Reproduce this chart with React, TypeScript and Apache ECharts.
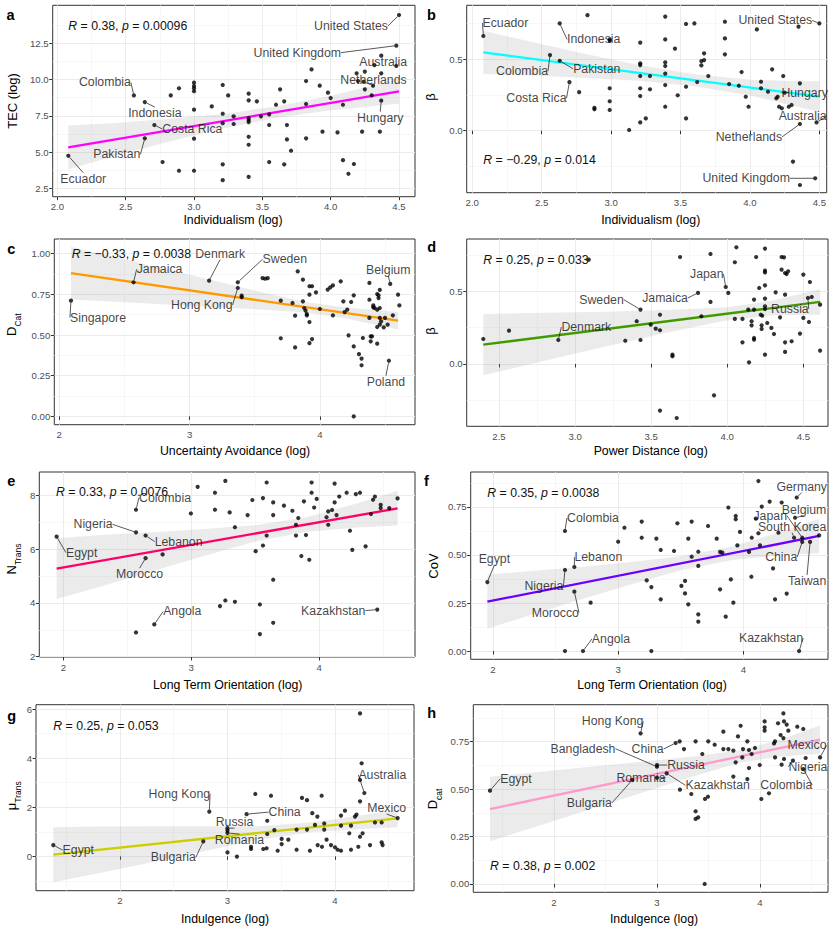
import React, { useEffect, useRef } from "react";
import * as echarts from "echarts";

const FONT = "'Liberation Sans', Arial, sans-serif";

// ---------------- Panel a : TEC vs Individualism ----------------
const A_POINTS = [
  [4.48, 10.94], [4.32, 11.0], [3.86, 10.7], [4.19, 10.43], [4.25, 10.55], [4.37, 10.43], [4.2, 9.9], [3.82, 9.9],
  [3.0, 9.79], [3.0, 9.56], [3.0, 9.4], [3.0, 9.2], [3.21, 9.63], [2.89, 9.4], [3.92, 9.58], [4.31, 9.58], [3.63, 9.33], [4.25, 9.33],
  [3.98, 9.1], [4.0, 8.73], [3.4, 9.03], [2.83, 8.91], [3.25, 8.91], [4.3, 8.91], [3.4, 8.57], [3.46, 8.5], [3.66, 8.5], [3.82, 8.32],
  [3.6, 8.27], [4.09, 8.27], [3.13, 8.15], [3.0, 7.93], [3.21, 7.65], [3.29, 7.47], [3.49, 7.47], [3.55, 7.6], [3.4, 7.35], [3.4, 7.21],
  [3.4, 7.07], [3.21, 7.0], [3.29, 6.94], [3.55, 6.87], [3.68, 6.87], [3.94, 6.41], [4.05, 6.36], [4.23, 6.41], [4.36, 6.41], [3.4, 6.06],
  [3.68, 5.88], [3.82, 5.95], [3.0, 5.93], [3.4, 5.51], [3.71, 5.1], [4.09, 4.45], [4.17, 4.18], [4.13, 3.51], [2.77, 4.32], [3.55, 4.32],
  [3.66, 4.16], [3.21, 4.16], [2.89, 3.72], [3.0, 3.72], [3.4, 3.3], [3.21, 3.07],
];
const A_LABELS = [
  ["United States", 4.5, 14.45], ["United Kingdom", 4.48, 12.34], ["Australia", 4.37, 11.65], ["Netherlands", 4.24, 9.85],
  ["Hungary", 4.37, 8.55], ["Colombia", 2.56, 8.91], ["Indonesia", 2.64, 8.45], ["Costa Rica", 2.71, 6.87],
  ["Pakistan", 2.64, 5.95], ["Ecuador", 2.08, 4.75],
];
const A_FIT_X = [2.08, 4.5];
const A_FIT_Y = [5.33, 9.19];
const A_BAND_X = [2.08, 2.4, 2.8, 3.2, 3.6, 4.0, 4.3, 4.5];
const A_BAND_LO = [3.83, 4.69, 5.68, 6.62, 7.35, 7.89, 8.17, 8.34];
const A_BAND_HI = [6.83, 6.99, 7.28, 7.62, 8.15, 8.89, 9.57, 10.04];
const A_X_MAJOR = [2.0, 2.5, 3.0, 3.5, 4.0, 4.5];
const A_X_MINOR = [2.25, 2.75, 3.25, 3.75, 4.25];
const A_Y_MAJOR = [2.5, 5.0, 7.5, 10.0, 12.5];
const A_Y_MINOR = [3.75, 6.25, 8.75, 11.25, 13.75];

// ---------------- Panel b : beta vs Individualism ----------------
const B_POINTS = [
  [2.83, 0.81], [2.88, 0.16], [2.88, 0.15], [2.77, 0.27], [2.99, 0.64], [2.99, 0.63], [2.99, 0.297], [2.99, 0.206], [2.99, 0.145], [3.13, 0.005],
  [3.21, 0.617], [3.21, 0.472], [3.21, 0.46], [3.21, 0.383], [3.21, 0.297], [3.21, 0.243], [3.21, 0.058], [3.25, 0.086], [3.28, 0.383], [3.28, 0.29],
  [3.39, 0.8], [3.39, 0.64], [3.39, 0.479], [3.39, 0.453], [3.39, 0.4], [3.39, 0.32], [3.39, 0.168], [3.46, 0.575], [3.48, 0.248], [3.54, 0.748],
  [3.6, 0.752], [3.54, 0.308], [3.54, 0.086], [3.62, 0.341], [3.65, 0.488], [3.65, 0.458], [3.67, 0.542], [3.67, 0.495], [3.7, 0.383], [3.82, 0.764],
  [3.82, 0.647], [3.82, 0.535], [3.85, 0.327], [3.92, 0.315], [3.94, 0.411], [3.97, 0.238], [3.99, 0.168], [4.05, 0.71], [4.08, 0.343], [4.08, 0.297],
  [4.13, 0.273], [4.16, 0.43], [4.19, 0.227], [4.2, 0.238], [4.21, 0.168], [4.23, 0.157], [4.24, 0.383], [4.28, 0.168], [4.3, 0.18], [4.31, -0.217],
  [4.35, 0.729], [4.36, 0.332], [4.36, -0.381],
];
const B_LABELS = [
  ["Ecuador", 2.08, 0.664], ["Indonesia", 2.63, 0.752], ["Colombia", 2.56, 0.53], ["Pakistan", 2.63, 0.49],
  ["Costa Rica", 2.7, 0.34], ["United States", 4.5, 0.752], ["Hungary", 4.25, 0.266], ["Australia", 4.48, 0.058],
  ["Netherlands", 4.36, 0.047], ["United Kingdom", 4.47, -0.334],
];
const B_FIT_X = [2.08, 4.5];
const B_FIT_Y = [0.549, 0.238];
const B_BAND_X = [2.08, 2.4, 2.8, 3.2, 3.6, 4.0, 4.3, 4.5];
const B_BAND_LO = [0.397, 0.388, 0.371, 0.35, 0.312, 0.247, 0.179, 0.13];
const B_BAND_HI = [0.701, 0.628, 0.541, 0.46, 0.396, 0.357, 0.349, 0.346];
const B_X_MAJOR = [2.0, 2.5, 3.0, 3.5, 4.0, 4.5];
const B_X_MINOR = [2.25, 2.75, 3.25, 3.75, 4.25];
const B_Y_MAJOR = [0.0, 0.5];
const B_Y_MINOR = [-0.25, 0.25, 0.75];

// ---------------- Panel c : D_Cat vs Uncertainty Avoidance ----------------
const C_POINTS = [
  [3.4, 0.742], [3.4, 0.732], [3.56, 0.85], [3.58, 0.846], [3.6, 0.85], [3.7, 0.711], [3.7, 0.48], [3.79, 0.697], [3.81, 0.619], [3.81, 0.424],
  [3.83, 0.891], [3.87, 0.84], [3.87, 0.707], [3.88, 0.666], [3.89, 0.65], [3.9, 0.629], [3.9, 0.621], [3.92, 0.748], [3.92, 0.8], [3.94, 0.8],
  [3.92, 0.58], [3.92, 0.45], [3.94, 0.475], [3.97, 0.762], [4.0, 0.66], [4.06, 0.779], [4.08, 0.793], [4.1, 0.805], [4.1, 0.621], [4.16, 0.83],
  [4.18, 0.707], [4.19, 0.641], [4.21, 0.656], [4.22, 0.498], [4.24, 0.703], [4.26, 0.744], [4.26, 0.43], [4.26, 0.0], [4.3, 0.383], [4.32, 0.355],
  [4.32, 0.314], [4.33, 0.482], [4.38, 0.82], [4.38, 0.717], [4.38, 0.605], [4.39, 0.492], [4.39, 0.461], [4.4, 0.492], [4.41, 0.682], [4.41, 0.67],
  [4.42, 0.666], [4.44, 0.752], [4.45, 0.744], [4.45, 0.727], [4.46, 0.777], [4.44, 0.656], [4.46, 0.666], [4.44, 0.549], [4.46, 0.564], [4.47, 0.584],
  [4.49, 0.547], [4.44, 0.447], [4.46, 0.605], [4.5, 0.605], [4.52, 0.564], [4.56, 0.621], [4.6, 0.748], [4.61, 0.682],
];
const C_LABELS = [
  ["Singapore", 2.09, 0.711], ["Jamaica", 2.57, 0.824], ["Denmark", 3.15, 0.834], ["Sweden", 3.37, 0.824],
  ["Hong Kong", 3.37, 0.789], ["Belgium", 4.54, 0.814], ["Poland", 4.53, 0.342],
];
const C_FIT_X = [2.09, 4.6];
const C_FIT_Y = [0.881, 0.588];
const C_BAND_X = [2.09, 2.5, 3.0, 3.5, 3.9, 4.2, 4.6];
const C_BAND_LO = [0.719, 0.701, 0.68, 0.658, 0.638, 0.601, 0.534];
const C_BAND_HI = [1.043, 0.965, 0.87, 0.774, 0.702, 0.669, 0.642];
const C_X_MAJOR = [2, 3, 4];
const C_X_MINOR = [2.5, 3.5, 4.5];
const C_Y_MAJOR = [0.0, 0.25, 0.5, 0.75, 1.0];
const C_Y_MINOR = [0.125, 0.375, 0.625, 0.875];

// ---------------- Panel d : beta vs Power Distance ----------------
const D_POINTS = [
  [2.397, 0.172], [2.566, 0.229], [3.09, 0.718], [3.33, 0.16], [3.405, 0.294], [3.43, 0.165], [3.497, 0.271], [3.53, 0.243], [3.558, 0.339], [3.558, 0.232],
  [3.558, -0.321], [3.64, 0.064], [3.64, 0.053], [3.668, -0.372], [3.69, 0.736], [3.83, 0.328], [3.89, 0.757], [3.89, 0.427], [3.913, -0.216], [4.007, 0.489],
  [4.05, 0.7], [4.05, 0.31], [4.06, 0.803], [4.1, 0.31], [4.1, 0.149], [4.143, 0.011], [4.138, 0.374], [4.16, 0.294], [4.16, 0.266], [4.176, 0.443],
  [4.176, 0.374], [4.176, 0.179], [4.176, 0.167], [4.19, 0.736], [4.21, 0.523], [4.22, 0.339], [4.23, 0.332], [4.226, 0.266], [4.226, 0.241], [4.248, 0.794],
  [4.248, 0.642], [4.248, 0.63], [4.248, 0.541], [4.248, 0.45], [4.248, 0.397], [4.248, 0.378], [4.248, 0.064], [4.263, 0.282], [4.29, 0.248], [4.307, 0.206],
  [4.318, 0.493], [4.347, 0.321], [4.357, 0.736], [4.373, 0.734], [4.357, 0.649], [4.38, 0.626], [4.39, 0.619], [4.4, 0.638], [4.38, 0.477], [4.38, 0.149],
  [4.38, 0.083], [4.423, 0.156], [4.478, 0.209], [4.5, 0.615], [4.5, 0.317], [4.537, 0.289], [4.543, 0.564], [4.555, 0.461], [4.61, 0.408], [4.61, 0.092],
];
const D_LABELS = [
  ["Denmark", 2.89, 0.165], ["Sweden", 3.43, 0.374], ["Jamaica", 3.808, 0.489], ["Japan", 3.99, 0.53], ["Russia", 4.53, 0.454],
];
const D_FIT_X = [2.397, 4.61];
const D_FIT_Y = [0.133, 0.427];
const D_BAND_X = [2.397, 2.8, 3.2, 3.6, 4.0, 4.3, 4.61];
const D_BAND_LO = [-0.078, 0.022, 0.12, 0.215, 0.301, 0.336, 0.339];
const D_BAND_HI = [0.344, 0.352, 0.36, 0.371, 0.391, 0.436, 0.515];
const D_X_MAJOR = [2.5, 3.0, 3.5, 4.0, 4.5];
const D_X_MINOR = [2.75, 3.25, 3.75, 4.25];
const D_Y_MAJOR = [0.0, 0.5];
const D_Y_MINOR = [-0.25, 0.25, 0.75];

// ---------------- Panel e : N_Trans vs Long Term Orientation ----------------
const E_POINTS = [
  [2.776, 5.8], [2.568, 2.9], [2.997, 7.32], [3.05, 8.31], [3.185, 8.09], [3.185, 7.46], [3.266, 8.53], [3.3, 7.36], [3.341, 6.81], [3.224, 3.88],
  [3.266, 4.09], [3.341, 4.04], [3.44, 7.26], [3.477, 7.82], [3.503, 5.92], [3.56, 7.89], [3.56, 6.13], [3.589, 8.47], [3.589, 6.5], [3.536, 3.94],
  [3.536, 2.84], [3.64, 7.73], [3.64, 7.26], [3.64, 4.86], [3.64, 3.26], [3.724, 7.61], [3.79, 7.42], [3.818, 6.9], [3.836, 7.15], [3.818, 6.5],
  [3.86, 5.74], [3.88, 7.77], [3.896, 6.52], [3.922, 5.6], [3.94, 8.47], [3.94, 8.09], [3.96, 7.54], [3.98, 7.86], [4.057, 7.18], [4.07, 6.9],
  [4.07, 7.4], [4.1, 7.45], [4.12, 8.43], [4.12, 7.73], [4.135, 7.26], [4.156, 7.95], [4.214, 8.09], [4.24, 6.68], [4.258, 5.97], [4.286, 8.04],
  [4.318, 8.09], [4.362, 6.1], [4.404, 7.3], [4.42, 7.83], [4.435, 7.95], [4.48, 7.64], [4.48, 7.52], [4.547, 7.52], [4.612, 7.88],
];
const E_LABELS = [
  ["Egypt", 1.948, 6.46], ["Colombia", 2.568, 7.46], ["Nigeria", 2.568, 6.62], ["Lebanon", 2.643, 6.5],
  ["Morocco", 2.643, 5.66], ["Angola", 2.711, 3.2], ["Kazakhstan", 4.453, 3.75],
];
const E_FIT_X = [1.948, 4.612];
const E_FIT_Y = [5.27, 7.51];
const E_BAND_X = [1.948, 2.3, 2.7, 3.1, 3.5, 3.9, 4.3, 4.612];
const E_BAND_LO = [4.14, 4.62, 5.18, 5.74, 6.28, 6.64, 6.8, 6.87];
const E_BAND_HI = [6.4, 6.52, 6.62, 6.74, 6.88, 7.18, 7.7, 8.15];
const E_X_MAJOR = [2, 3, 4];
const E_X_MINOR = [2.5, 3.5, 4.5];
const E_Y_MAJOR = [2, 4, 6, 8];
const E_Y_MINOR = [3, 5, 7];

// ---------------- Panel f : CoV vs Long Term Orientation ----------------
const F_POINTS = [
  [2.78, 0.252], [2.575, 0.0], [3.265, 0.0], [3.0, 0.569], [3.05, 0.642], [3.188, 0.674], [3.188, 0.59], [3.228, 0.368], [3.265, 0.333], [3.305, 0.585],
  [3.34, 0.526], [3.34, 0.269], [3.446, 0.521], [3.473, 0.665], [3.505, 0.339], [3.534, 0.365], [3.534, 0.3], [3.56, 0.585], [3.56, 0.243], [3.587, 0.674],
  [3.587, 0.491], [3.64, 0.517], [3.64, 0.443], [3.64, 0.191], [3.64, 0.153], [3.718, 0.651], [3.787, 0.585], [3.814, 0.516], [3.832, 0.512], [3.814, 0.321],
  [3.859, 0.179], [3.88, 0.747], [3.9, 0.373], [3.92, 0.252], [3.939, 0.703], [3.939, 0.686], [3.952, 0.55], [3.973, 0.62], [4.045, 0.516], [4.064, 0.387],
  [4.067, 0.59], [4.1, 0.689], [4.12, 0.885], [4.12, 0.613], [4.133, 0.55], [4.147, 0.752], [4.21, 0.778], [4.237, 0.43], [4.253, 0.269], [4.28, 0.616],
  [4.306, 0.773], [4.346, 0.299], [4.605, 0.602],
];
const F_LABELS = [
  ["Egypt", 1.955, 0.359], ["Colombia", 2.575, 0.625], ["Nigeria", 2.575, 0.422], ["Lebanon", 2.65, 0.4375],
  ["Morocco", 2.65, 0.309], ["Angola", 2.719, 0.0], ["Kazakhstan", 4.445, 0.0], ["Germany", 4.426, 0.799],
  ["Belgium", 4.413, 0.694], ["Japan", 4.47, 0.59], ["South Korea", 4.405, 0.59], ["China", 4.47, 0.568], ["Taiwan", 4.533, 0.568],
];
const F_FIT_X = [1.955, 4.605];
const F_FIT_Y = [0.257, 0.599];
const F_BAND_X = [1.955, 2.3, 2.7, 3.1, 3.5, 3.9, 4.3, 4.605];
const F_BAND_LO = [0.117, 0.187, 0.268, 0.347, 0.421, 0.473, 0.5, 0.509];
const F_BAND_HI = [0.397, 0.417, 0.438, 0.463, 0.493, 0.543, 0.62, 0.689];
const F_X_MAJOR = [2, 3, 4];
const F_X_MINOR = [2.5, 3.5, 4.5];
const F_Y_MAJOR = [0.0, 0.25, 0.5, 0.75];
const F_Y_MINOR = [0.125, 0.375, 0.625, 0.875];

// ---------------- Panel g : mu_Trans vs Indulgence ----------------
const G_POINTS = [
  [3.0, 1.05], [3.0, 0.16], [3.088, -0.01], [3.219, 0.39], [3.219, 0.3], [3.259, 2.54], [3.333, 0.3], [3.364, 0.33], [3.37, 1.45], [3.37, 0.91],
  [3.405, 2.47], [3.436, 1.07], [3.467, 0.23], [3.504, 0.71], [3.504, 0.5], [3.566, 0.68], [3.643, 1.09], [3.643, 0.27], [3.693, 2.38], [3.74, 2.29],
  [3.74, 1.09], [3.767, 0.23], [3.789, 1.76], [3.814, 1.28], [3.836, 1.62], [3.839, 0.46], [3.876, 2.47], [3.879, 0.39], [3.9, 1.34], [3.9, 1.09],
  [3.922, 0.68], [3.963, 0.46], [4.0, 0.37], [4.025, 0.27], [4.056, 0.23], [4.056, 1.25], [4.056, 1.66], [4.093, 1.86], [4.133, 0.94], [4.149, 1.25],
  [4.149, 0.27], [4.186, 1.62], [4.2, 1.7], [4.217, 0.39], [4.233, 5.82], [4.233, 3.11], [4.233, 2.24], [4.233, 0.8], [4.248, 3.79], [4.257, 0.94],
  [4.326, 0.46], [4.372, 1.38], [4.434, 1.38], [4.434, 0.57], [4.443, 0.46],
];
const G_LABELS = [
  ["Egypt", 1.38, 0.46], ["Hong Kong", 2.831, 1.82], ["Bulgaria", 2.775, 0.61], ["Russia", 3.0, 1.15],
  ["Romania", 3.0, 0.95], ["China", 3.178, 1.72], ["Australia", 4.273, 2.58], ["Mexico", 4.583, 1.56],
];
const G_FIT_X = [1.38, 4.583];
const G_FIT_Y = [0.07, 1.55];
const G_BAND_X = [1.38, 1.8, 2.3, 2.8, 3.3, 3.8, 4.2, 4.583];
const G_BAND_LO = [-1.05, -0.686, -0.235, 0.226, 0.687, 0.988, 1.103, 1.19];
const G_BAND_HI = [1.19, 1.214, 1.225, 1.226, 1.227, 1.388, 1.643, 1.91];
const G_X_MAJOR = [2, 3, 4];
const G_X_MINOR = [1.5, 2.5, 3.5, 4.5];
const G_Y_MAJOR = [0, 2, 4, 6];
const G_Y_MINOR = [-1, 1, 3, 5];

// ---------------- Panel h : D_cat vs Indulgence ----------------
const H_POINTS = [
  [3.22, 0.752], [3.223, 0.497], [3.262, 0.711], [3.333, 0.474], [3.375, 0.752], [3.375, 0.383], [3.375, 0.343], [3.4, 0.351], [3.44, 0.685], [3.463, 0.0],
  [3.466, 0.448], [3.495, 0.46], [3.498, 0.752], [3.56, 0.734], [3.644, 0.803], [3.644, 0.711], [3.693, 0.711], [3.741, 0.703], [3.741, 0.566], [3.764, 0.641],
  [3.786, 0.778], [3.812, 0.834], [3.828, 0.667], [3.835, 0.711], [3.877, 0.752], [3.877, 0.553], [3.893, 0.706], [3.893, 0.611], [3.919, 0.685], [3.951, 0.717],
  [3.997, 0.627], [4.013, 0.448], [4.045, 0.857], [4.045, 0.826], [4.045, 0.808], [4.087, 0.478], [4.136, 0.741], [4.146, 0.752], [4.146, 0.667], [4.175, 0.847],
  [4.2, 0.785], [4.21, 0.629], [4.227, 0.899], [4.227, 0.769], [4.233, 0.857], [4.259, 0.84], [4.233, 0.659], [4.275, 0.808], [4.362, 0.829], [4.42, 0.817],
  [4.443, 0.664],
];
const H_LABELS = [
  ["Egypt", 1.379, 0.492], ["Hong Kong", 2.841, 0.794], ["Bulgaria", 2.76, 0.548], ["Romania", 3.0, 0.56],
  ["Bangladesh", 3.0, 0.618], ["Russia", 3.0, 0.627], ["Kazakhstan", 3.094, 0.583], ["China", 3.181, 0.743],
  ["Mexico", 4.583, 0.667], ["Nigeria", 4.32, 0.65], ["Colombia", 4.42, 0.606],
];
const H_FIT_X = [1.379, 4.583];
const H_FIT_Y = [0.395, 0.761];
const H_BAND_X = [1.379, 1.8, 2.3, 2.8, 3.3, 3.8, 4.2, 4.583];
const H_BAND_LO = [0.225, 0.298, 0.385, 0.472, 0.559, 0.639, 0.672, 0.686];
const H_BAND_HI = [0.565, 0.588, 0.615, 0.642, 0.669, 0.703, 0.762, 0.836];
const H_X_MAJOR = [2, 3, 4];
const H_X_MINOR = [1.5, 2.5, 3.5, 4.5];
const H_Y_MAJOR = [0.0, 0.25, 0.5, 0.75];
const H_Y_MINOR = [0.125, 0.375, 0.625, 0.875];

// ---------------- layout (pixel positions, label nudges, styles) ----------------
const PANELS = [
  {
    letter: "a", points: A_POINTS, labels: A_LABELS, fitX: A_FIT_X, fitY: A_FIT_Y, bandX: A_BAND_X, bandLo: A_BAND_LO, bandHi: A_BAND_HI,
    xMajor: A_X_MAJOR, xMinor: A_X_MINOR, yMajor: A_Y_MAJOR, yMinor: A_Y_MINOR, xDec: 1, yDec: 1,
    rect: [52.7, 5.3, 415, 196.7], xr: [1.966, 4.617], yr: [1.93, 15.12], color: "#FF00FF",
    nudge: [[-48, 11], [-99, 7], [2, 6], [10, -2], [-1, 17], [-29, -13], [10, 11], [38, 4], [-28, 16], [15, 23]],
    stat: ["R", " = 0.38, ", "p", " = 0.00096"], statPos: [68.3, 25.7],
    xTitle: "Individualism (log)", xTitlePos: [233, 220], yTitle: ["TEC (log)", ""], yTitlePos: [14, 101], letterPos: [6.5, 15],
  },
  {
    letter: "b", points: B_POINTS, labels: B_LABELS, fitX: B_FIT_X, fitY: B_FIT_Y, bandX: B_BAND_X, bandLo: B_BAND_LO, bandHi: B_BAND_HI,
    xMajor: B_X_MAJOR, xMinor: B_X_MINOR, yMajor: B_Y_MAJOR, yMinor: B_Y_MINOR, xDec: 1, yDec: 1,
    rect: [466.7, 5.3, 828, 192.7], xr: [1.96, 4.553], yr: [-0.435, 0.879], color: "#00FFFF",
    nudge: [[22, -13], [34, 16], [-28, 16], [37, 8], [-33, 16], [-44, -3], [20, 0], [-14, -6], [-51, 13], [-69, 0]],
    stat: ["R", " = \u22120.29, ", "p", " = 0.014"], statPos: [483.3, 160],
    xTitle: "Individualism (log)", xTitlePos: [650.7, 220], yTitle: ["\u03b2", ""], yTitlePos: [432.3, 97], letterPos: [427, 15],
  },
  {
    letter: "c", points: C_POINTS, labels: C_LABELS, fitX: C_FIT_X, fitY: C_FIT_Y, bandX: C_BAND_X, bandLo: C_BAND_LO, bandHi: C_BAND_HI,
    xMajor: C_X_MAJOR, xMinor: C_X_MINOR, yMajor: C_Y_MAJOR, yMinor: C_Y_MINOR, xDec: 0, yDec: 2,
    rect: [54.3, 239, 415, 424.7], xr: [1.962, 4.73], yr: [-0.051, 1.09], color: "#FF9900",
    nudge: [[27, 17], [26, -13], [11, -27], [47, -23], [-36, 17], [-2, -14], [-3, 21]],
    stat: ["R", " = \u22120.33, ", "p", " = 0.0038"], statPos: [71.7, 253.7],
    xTitle: "Uncertainty Avoidance (log)", xTitlePos: [235, 451.3], yTitle: ["D", "Cat"], yTitlePos: [13.3, 324.7], letterPos: [7.3, 248.7],
  },
  {
    letter: "d", points: D_POINTS, labels: D_LABELS, fitX: D_FIT_X, fitY: D_FIT_Y, bandX: D_BAND_X, bandLo: D_BAND_LO, bandHi: D_BAND_HI,
    xMajor: D_X_MAJOR, xMinor: D_X_MINOR, yMajor: D_Y_MAJOR, yMinor: D_Y_MINOR, xDec: 1, yDec: 1,
    rect: [466.7, 239, 828, 426.3], xr: [2.288, 4.662], yr: [-0.429, 0.86], color: "#3F9A00",
    nudge: [[28, -13], [-39, -10], [-33, 5], [-19, -13], [-18, 11]],
    stat: ["R", " = 0.25, ", "p", " = 0.033"], statPos: [483.3, 259.7],
    xTitle: "Power Distance (log)", xTitlePos: [650.7, 451.3], yTitle: ["\u03b2", ""], yTitlePos: [432.3, 331], letterPos: [427.3, 247.3],
  },
  {
    letter: "e", points: E_POINTS, labels: E_LABELS, fitX: E_FIT_X, fitY: E_FIT_Y, bandX: E_BAND_X, bandLo: E_BAND_LO, bandHi: E_BAND_HI,
    xMajor: E_X_MAJOR, xMinor: E_X_MINOR, yMajor: E_Y_MAJOR, yMinor: E_Y_MINOR, xDec: 0, yDec: 0,
    rect: [39.3, 472, 415, 657], xr: [1.8125, 4.748], yr: [1.99, 8.86], color: "#FF0066",
    nudge: [[25, 16], [29, -12], [-43, -8], [33, 6], [-6, 16], [28, -13], [-44, 1]],
    stat: ["R", " = 0.33, ", "p", " = 0.0076"], statPos: [56, 492],
    xTitle: "Long Term Orientation (log)", xTitlePos: [227.7, 685], yTitle: ["N", "Trans"], yTitlePos: [13, 559], letterPos: [7.3, 481],
  },
  {
    letter: "f", points: F_POINTS, labels: F_LABELS, fitX: F_FIT_X, fitY: F_FIT_Y, bandX: F_BAND_X, bandLo: F_BAND_LO, bandHi: F_BAND_HI,
    xMajor: F_X_MAJOR, xMinor: F_X_MINOR, yMajor: F_Y_MAJOR, yMinor: F_Y_MINOR, xDec: 0, yDec: 2,
    rect: [470.7, 472, 828, 659.3], xr: [1.822, 4.676], yr: [-0.043, 0.932], color: "#6A00FF",
    nudge: [[7, -23], [28, -13], [-21, 16], [24, -10], [-19, 21], [28, -12], [-28, -13], [5, -11], [9, -8], [-32, -22], [-2, -11], [-21, 15], [-3, 39]],
    stat: ["R", " = 0.35, ", "p", " = 0.0038"], statPos: [487.3, 492.7],
    xTitle: "Long Term Orientation (log)", xTitlePos: [652, 685], yTitle: ["CoV", ""], yTitlePos: [434.7, 566], letterPos: [424, 481],
  },
  {
    letter: "g", points: G_POINTS, labels: G_LABELS, fitX: G_FIT_X, fitY: G_FIT_Y, bandX: G_BAND_X, bandLo: G_BAND_LO, bandHi: G_BAND_HI,
    xMajor: G_X_MAJOR, xMinor: G_X_MINOR, yMajor: G_Y_MAJOR, yMinor: G_Y_MINOR, xDec: 0, yDec: 0,
    rect: [36, 704.7, 414, 890.7], xr: [1.219, 4.735], yr: [-1.398, 6.176], color: "#CDCD00",
    nudge: [[25, 5], [-30, -18], [-30, 16], [7, -6], [12, 7], [38, -2], [18, -18], [-11, -10]],
    stat: ["R", " = 0.25, ", "p", " = 0.053"], statPos: [53.3, 725.7],
    xTitle: "Indulgence (log)", xTitlePos: [225, 919], yTitle: ["\u03bc", "Trans"], yTitlePos: [13.3, 795.7], letterPos: [7.3, 715.7],
  },
  {
    letter: "h", points: H_POINTS, labels: H_LABELS, fitX: H_FIT_X, fitY: H_FIT_Y, bandX: H_BAND_X, bandLo: H_BAND_LO, bandHi: H_BAND_HI,
    xMajor: H_X_MAJOR, xMinor: H_X_MINOR, yMajor: H_Y_MAJOR, yMinor: H_Y_MINOR, xDec: 0, yDec: 2,
    rect: [473.3, 704.7, 828, 892.3], xr: [1.217, 4.66], yr: [-0.044, 0.945], color: "#FF99CC",
    nudge: [[26, -12], [-28, -12], [-43, 23], [-16, 0], [-74, -18], [29, 0], [51, 12], [-28, 6], [-13, -12], [15, 6], [-17, 16]],
    stat: ["R", " = 0.38, ", "p", " = 0.002"], statPos: [490, 865.7],
    xTitle: "Indulgence (log)", xTitlePos: [654, 919], yTitle: ["D", "cat"], yTitlePos: [434, 799], letterPos: [427.3, 713.3],
  },
];

function buildOption() {
  const grid: any[] = [];
  const xAxis: any[] = [];
  const yAxis: any[] = [];
  const series: any[] = [];
  const graphic: any[] = [];

  PANELS.forEach((p, i) => {
    const [l, t, r, b] = p.rect;
    grid.push({
      left: l, top: t, width: r - l, height: b - t, show: true,
      borderColor: "#333333", borderWidth: 1, backgroundColor: "#ffffff", containLabel: false,
    });
    const tickStyle = { show: true, length: 3.5, lineStyle: { color: "#333333", width: 1 } };
    // major axes (index 2i)
    xAxis.push({
      type: "value", gridIndex: i, min: p.xr[0], max: p.xr[1], position: "bottom",
      axisLine: { show: false },
      axisTick: { ...tickStyle, customValues: p.xMajor },
      axisLabel: { customValues: p.xMajor, formatter: (v: number) => v.toFixed(p.xDec), color: "#4D4D4D", fontSize: 9.6, fontFamily: FONT, margin: 5 },
      splitLine: { show: true, lineStyle: { color: "#EBEBEB", width: 1 } },
    });
    // minor axes (index 2i+1)
    xAxis.push({
      type: "value", gridIndex: i, min: p.xr[0], max: p.xr[1], position: "bottom",
      axisLine: { show: false }, axisTick: { show: false, customValues: p.xMinor }, axisLabel: { show: false },
      splitLine: { show: true, lineStyle: { color: "#F3F3F3", width: 0.7 } },
    });
    yAxis.push({
      type: "value", gridIndex: i, min: p.yr[0], max: p.yr[1], position: "left",
      axisLine: { show: false },
      axisTick: { ...tickStyle, customValues: p.yMajor },
      axisLabel: { customValues: p.yMajor, formatter: (v: number) => v.toFixed(p.yDec), color: "#4D4D4D", fontSize: 9.6, fontFamily: FONT, margin: 4 },
      splitLine: { show: true, lineStyle: { color: "#EBEBEB", width: 1 } },
    });
    yAxis.push({
      type: "value", gridIndex: i, min: p.yr[0], max: p.yr[1], position: "left",
      axisLine: { show: false }, axisTick: { show: false, customValues: p.yMinor }, axisLabel: { show: false },
      splitLine: { show: true, lineStyle: { color: "#F3F3F3", width: 0.7 } },
    });
    const xi = 2 * i;
    const yi = 2 * i;

    // confidence band
    series.push({
      type: "custom", xAxisIndex: xi, yAxisIndex: yi, silent: true, z: 1, clip: true,
      data: [[p.bandX[0], p.bandLo[0]]],
      encode: { x: 0, y: 1 },
      renderItem: (_params: any, api: any) => {
        const pts: number[][] = [];
        for (let k = 0; k < p.bandX.length; k++) pts.push(api.coord([p.bandX[k], p.bandHi[k]]));
        for (let k = p.bandX.length - 1; k >= 0; k--) pts.push(api.coord([p.bandX[k], p.bandLo[k]]));
        return { type: "polygon", shape: { points: pts }, style: { fill: "rgba(153,153,153,0.2)" } };
      },
    });
    // regression line
    series.push({
      type: "line", xAxisIndex: xi, yAxisIndex: yi, silent: true, z: 2, showSymbol: false, symbol: "none",
      data: p.fitX.map((x, k) => [x, p.fitY[k]]),
      lineStyle: { color: p.color, width: 2.3 },
    });
    // unlabeled points
    series.push({
      type: "scatter", xAxisIndex: xi, yAxisIndex: yi, silent: true, z: 3,
      symbolSize: 4.2, itemStyle: { color: "#000000" },
      data: p.points,
    });
    // labeled points
    const nudge = p.nudge;
    series.push({
      type: "scatter", xAxisIndex: xi, yAxisIndex: yi, silent: true, z: 4,
      symbolSize: 4.2, itemStyle: { color: "#000000" },
      data: p.labels.map((d) => [d[1], d[2], d[0]]),
      label: {
        show: true, position: "inside", formatter: (q: any) => q.data[2],
        color: "#111111", fontSize: 12.3, fontFamily: FONT, textBorderWidth: 0,
      },
      labelLayout: (q: any) => ({ dx: nudge[q.dataIndex][0], dy: nudge[q.dataIndex][1] }),
      labelLine: { show: true, lineStyle: { color: "#111111", width: 0.7 } },
    });

    // annotations
    graphic.push({
      type: "text", x: p.statPos[0], y: p.statPos[1], silent: true, z: 10,
      style: {
        text: `{i|${p.stat[0]}}{n|${p.stat[1]}}{i|${p.stat[2]}}{n|${p.stat[3]}}`,
        verticalAlign: "middle", align: "left",
        rich: {
          i: { fontStyle: "italic", fontSize: 12.3, fontFamily: FONT, fill: "#111111" },
          n: { fontSize: 12.3, fontFamily: FONT, fill: "#111111" },
        },
      },
    });
    graphic.push({
      type: "text", x: p.letterPos[0], y: p.letterPos[1], silent: true,
      style: { text: p.letter, fontSize: 14.5, fontWeight: "bold", fontFamily: FONT, fill: "#000000", verticalAlign: "middle", align: "left" },
    });
    graphic.push({
      type: "text", x: p.xTitlePos[0], y: p.xTitlePos[1], silent: true,
      style: { text: p.xTitle, fontSize: 12.3, fontFamily: FONT, fill: "#000000", verticalAlign: "middle", align: "center" },
    });
    const yt = p.yTitle[1]
      ? `{m|${p.yTitle[0]}}{s|${p.yTitle[1]}}`
      : `{m|${p.yTitle[0]}}`;
    graphic.push({
      type: "text", x: p.yTitlePos[0], y: p.yTitlePos[1], rotation: Math.PI / 2, silent: true,
      style: {
        text: yt, verticalAlign: "middle", align: "center",
        rich: {
          m: { fontSize: 13, fontFamily: FONT, fill: "#000000", lineHeight: 16, verticalAlign: "top" },
          s: { fontSize: 8.5, fontFamily: FONT, fill: "#000000", lineHeight: 9, verticalAlign: "top", padding: [8, 0, 0, 0] },
        },
      },
    });
  });

  return {
    animation: false,
    backgroundColor: "#ffffff",
    grid, xAxis, yAxis, series, graphic,
  };
}

export default function App() {
  const ref = useRef<HTMLDivElement>(null);
  useEffect(() => {
    document.body.style.margin = "0";
    if (!ref.current) return;
    const chart = echarts.init(ref.current, null, { renderer: "svg" });
    chart.setOption(buildOption() as any);
    return () => chart.dispose();
  }, []);
  return <div ref={ref} style={{ width: 829, height: 929 }} />;
}
